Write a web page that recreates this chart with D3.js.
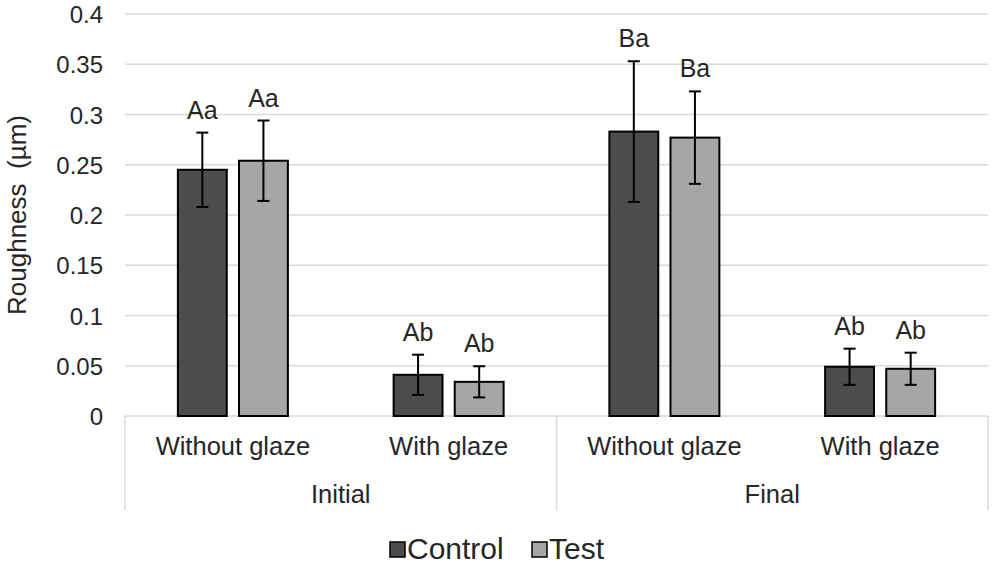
<!DOCTYPE html>
<html>
<head>
<meta charset="UTF-8">
<script src="https://cdn.jsdelivr.net/npm/d3@7"></script>
<style>
  body { margin: 0; background: #fff; }
  text { font-family: "Liberation Sans", Arial, sans-serif; fill: #262626; }
</style>
</head>
<body>
<svg id="chart" width="993" height="565"></svg>
<script>
// data
var groups = ["Initial", "Final"];
var subcats = ["Without glaze", "With glaze"];
var series = ["Control", "Test"];
var controlVals = [0.245, 0.041, 0.283, 0.049];
var controlErr  = [0.037, 0.020, 0.070, 0.018];
var testVals    = [0.254, 0.034, 0.277, 0.047];
var testErr     = [0.040, 0.0155, 0.046, 0.016];
var controlLbl  = ["Aa", "Ab", "Ba", "Ab"];
var testLbl     = ["Aa", "Ab", "Ba", "Ab"];
var yTicks = [0, 0.05, 0.1, 0.15, 0.2, 0.25, 0.3, 0.35, 0.4];
var colors = { Control: "#4d4d4d", Test: "#a6a6a6" };

var svg = d3.select("#chart");
var mLeft = 125, mRight = 988, mTop = 14, mBottom = 416;

// one key per lower-level category
var cats = [];
groups.forEach(function(g) {
  subcats.forEach(function(s) { cats.push(g + "|" + s); });
});

var rows = [];
cats.forEach(function(c, i) {
  rows.push({ cat: c, s: "Control", v: controlVals[i], e: controlErr[i], lbl: controlLbl[i] });
  rows.push({ cat: c, s: "Test", v: testVals[i], e: testErr[i], lbl: testLbl[i] });
});

var x0 = d3.scaleBand().domain(cats).range([mLeft, mRight]);
var xg = d3.scaleBand().domain(groups).range([mLeft, mRight]);
var y = d3.scaleLinear().domain([0, 0.4]).range([mBottom, mTop]);
var x1 = d3.scaleBand().domain(series).range([-55, 55]).paddingInner(0.2);
function cx(c) { return x0(c) + x0.bandwidth() / 2; }

// gridlines
svg.append("g").selectAll("line").data(yTicks.slice(1)).join("line")
  .attr("x1", mLeft).attr("x2", mRight)
  .attr("y1", function(d) { return y(d); }).attr("y2", function(d) { return y(d); })
  .attr("stroke", "#d9d9d9").attr("stroke-width", 1.5);

// y axis labels
var yAxis = svg.append("g").attr("transform", "translate(" + (mLeft - 22) + ",0)")
  .call(d3.axisLeft(y).tickValues(yTicks).tickSize(0).tickPadding(0)
    .tickFormat(function(d) { return String(+d.toFixed(2)); }));
yAxis.select(".domain").remove();
yAxis.selectAll("text").style("font-size", "24px").style("font-family", null)
  .attr("fill", "#262626").attr("dy", "0.36em");

// y title
svg.append("text")
  .attr("transform", "translate(26," + ((mTop + mBottom) / 2) + ") rotate(-90)")
  .attr("text-anchor", "middle")
  .style("font-size", "26px").style("white-space", "pre")
  .text("Roughness  (\u00b5m)");

// category axis lines
var axg = svg.append("g").attr("stroke", "#d9d9d9").attr("stroke-width", 1.5);
axg.append("line").attr("x1", mLeft).attr("x2", mRight).attr("y1", mBottom).attr("y2", mBottom);
var seps = [mLeft].concat(groups.map(function(g) { return xg(g) + xg.bandwidth(); }));
axg.selectAll(".sep").data(seps).join("line").attr("class", "sep")
  .attr("x1", function(d) { return d; }).attr("x2", function(d) { return d; })
  .attr("y1", mBottom).attr("y2", 510);

// bars
svg.append("g").selectAll("rect").data(rows).join("rect")
  .attr("x", function(d) { return cx(d.cat) + x1(d.s); })
  .attr("width", x1.bandwidth())
  .attr("y", function(d) { return y(d.v); })
  .attr("height", function(d) { return y(0) - y(d.v); })
  .attr("fill", function(d) { return colors[d.s]; })
  .attr("stroke", "#000").attr("stroke-width", 2);

// error bars
var eb = svg.append("g").attr("stroke", "#000").attr("stroke-width", 2);
rows.forEach(function(d) {
  var xm = cx(d.cat) + x1(d.s) + x1.bandwidth() / 2;
  eb.append("line").attr("x1", xm).attr("x2", xm).attr("y1", y(d.v + d.e)).attr("y2", y(d.v - d.e));
  eb.append("line").attr("x1", xm - 6).attr("x2", xm + 6).attr("y1", y(d.v + d.e)).attr("y2", y(d.v + d.e));
  eb.append("line").attr("x1", xm - 6).attr("x2", xm + 6).attr("y1", y(d.v - d.e)).attr("y2", y(d.v - d.e));
});

// significance letters
svg.append("g").selectAll("text").data(rows).join("text")
  .attr("x", function(d) { return cx(d.cat) + x1(d.s) + x1.bandwidth() / 2; })
  .attr("y", function(d) { return y(d.v + d.e) - 14; })
  .attr("text-anchor", "middle").style("font-size", "25px")
  .text(function(d) { return d.lbl; });

// category labels
svg.append("g").selectAll("text").data(cats).join("text")
  .attr("x", cx).attr("y", 455)
  .attr("text-anchor", "middle").style("font-size", "25.5px")
  .text(function(d) { return d.split("|")[1]; });
svg.append("g").selectAll("text").data(groups).join("text")
  .attr("x", function(d) { return xg(d) + xg.bandwidth() / 2; }).attr("y", 503)
  .attr("text-anchor", "middle").style("font-size", "25.5px")
  .text(function(d) { return d; });

// legend
var legX = [390, 532];
var leg = svg.append("g").selectAll("g").data(series).join("g")
  .attr("transform", function(d, i) { return "translate(" + legX[i] + ",542)"; });
leg.append("rect").attr("width", 15).attr("height", 15)
  .attr("fill", function(d) { return colors[d]; })
  .attr("stroke", "#000").attr("stroke-width", 1.5);
leg.append("text").attr("x", 17).attr("y", 17).style("font-size", "30px")
  .text(function(d) { return d; });
</script>
</body>
</html>
